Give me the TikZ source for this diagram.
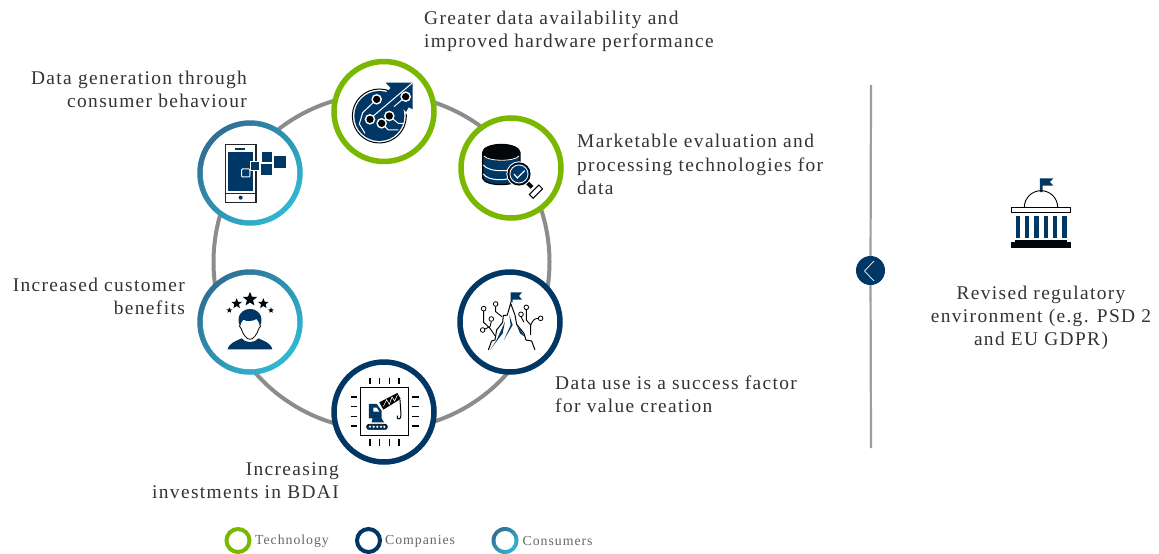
\documentclass[tikz,border=0pt]{standalone}
\usepackage{fontspec}
\setmainfont[LetterSpace=7]{Liberation Serif}
\usetikzlibrary{shapes.geometric}
\definecolor{techcolor}{HTML}{7AB800}
\definecolor{compcolor}{HTML}{003764}
\definecolor{consdark}{HTML}{2F6F93}
\definecolor{conslight}{HTML}{2FB8D2}
\definecolor{ringcolor}{HTML}{8C8C8C}
\definecolor{textcolor}{HTML}{333333}
\newcommand{\ringsize}{100pt}
\newcommand{\thickness}{5.5pt}
\tikzset{
  techring/.style={circle,draw=techcolor,fill=white,line width=\thickness,minimum size=\ringsize,inner sep=0pt},
  compring/.style={circle,draw=compcolor,fill=white,line width=\thickness,minimum size=\ringsize,inner sep=0pt},
  consring/.style={circle,top color=consdark,bottom color=conslight,shading angle=45,minimum size=\ringsize+\thickness,inner sep=0pt},
  consinner/.style={circle,fill=white,minimum size=\ringsize-\thickness,inner sep=0pt},
  techkey/.style={circle,draw=techcolor,fill=white,line width=4pt,minimum size=23pt,inner sep=0pt},
  compkey/.style={circle,draw=compcolor,fill=white,line width=4pt,minimum size=23pt,inner sep=0pt},
  conskey/.style={circle,top color=consdark,bottom color=conslight,shading angle=45,minimum size=27pt,inner sep=0pt},
  conskeyinner/.style={circle,fill=white,minimum size=19pt,inner sep=0pt},
  label/.style={text=textcolor,inner sep=0pt,font=\fontsize{19.4}{23.2}\selectfont},
  keylabel/.style={text=black!60,inner sep=0pt,font=\fontsize{13.8}{15}\selectfont,anchor=west},
  star5/.style={star,star points=5,star point ratio=2.3,fill=black!85!compcolor,inner sep=0pt},
  zoomed/.style={x=0.3333pt,y=-0.3333pt},
}

\begin{document}
\begin{tikzpicture}[x=1pt,y=-1pt]
\useasboundingbox (0,0) rectangle (1159,554);
\fill[white] (0,0) rectangle (1159,554);
\draw[ringcolor,line width=4pt] (381.5,262) circle (168);
%rings
\node[techring] (data) at (384,111.5) {};
\node[techring] (eval) at (511,168) {};
\node[compring] (use) at (510,322) {};
\node[compring] (invest) at (384,412) {};
\node[consring] (benefit) at (250,322) {};
\node[consinner] (benefitin) at (250,322) {};
\node[consring] (behave) at (250,173) {};
\node[consinner] (behavein) at (250,173) {};
%labels
\node[label,anchor=west,align=left] (datatext) at (424,31.5) {Greater data availability and\\improved hardware performance};
\node[label,anchor=west,align=left] (evaltext) at (577,164.5) {Marketable evaluation and\\processing technologies for\\data};
\node[label,anchor=west,align=left] (usetext) at (555,394) {Data use is a success factor\\for value creation};
\node[label,anchor=east,align=right] (investtext) at (339,481) {Increasing\\investments in BDAI};
\node[label,anchor=east,align=right] (benefittext) at (185,296) {Increased customer\\benefits};
\node[label,anchor=east,align=right] (behavetext) at (247,89) {Data generation through\\consumer behaviour};
\node[label,align=center] (lawtext) at (1041,318) {Revised regulatory\\environment (e.g. PSD 2\\and EU GDPR)};
%legend
\node[techkey] (key1) at (238,540.5) {};
\node[compkey] (key2) at (368.5,540.5) {};
\node[conskey] (key3) at (505,540.5) {};
\node[conskeyinner] (key3in) at (505,540.5) {};
\node[keylabel] (key1text) at (255,541) {Technology};
\node[keylabel] (key2text) at (385,541) {Companies};
\node[keylabel] (key3text) at (522.5,541) {Consumers};
%divider
\node[circle,fill=compcolor,minimum size=29pt,inner sep=0pt] (arrowdot) at (870.5,270.5) {};
\coordinate (linetop) at (871,85);
\coordinate (linebot) at (871,448);
\begin{scope}
\draw[black!38,line width=2.2pt] (linetop) -- (arrowdot);
\draw[black!38,line width=2.2pt] (arrowdot) -- (linebot);
\end{scope}
\draw[white,line width=0.7pt] (874,261) -- (864.5,271) -- (874,281);
%data icon
\begin{scope}[shift={(320,50)},zoomed]
\draw[black,line width=1pt,fill=white] (178,198) circle (81);
\fill[compcolor] (178,198) circle (75);
\fill[white] (190,92) -- (285,92) -- (285,185) -- (258,192) -- (250,178) -- (212,114) -- cycle;
\fill[compcolor] (197,98) -- (278,98) -- (278,178) -- (266,172) -- (258,186) -- (250,178) -- (170,260) -- (130,190) -- (212,114) -- cycle;
\draw[white,line width=1pt] (278,98) -- (160,198);
\draw[white,line width=1pt] (257,140) -- (222,170);
\draw[white,line width=1pt] (170,148) -- (128,188) -- (118,222) -- (135,250);
\draw[white,line width=1pt] (208,198) -- (235,220) -- (250,220);
\draw[white,line width=1pt] (185,220) -- (205,240) -- (235,240);
\fill[white] (170,148) circle (16);
\fill[black] (170,148) circle (11);
\fill[white] (257,140) circle (16);
\fill[black] (257,140) circle (11);
\fill[white] (150,208) circle (16);
\fill[black] (150,208) circle (11);
\fill[white] (208,198) circle (16);
\fill[black] (208,198) circle (11);
\fill[white] (185,220) circle (16);
\fill[black] (185,220) circle (11);
%database icon
\draw[black,line width=1.2pt,fill=compcolor] (488,310) -- (488,385) .. controls (495,410) and (590,410) .. (600,385) -- (600,310) -- cycle;
\draw[white,line width=1pt] (490,345) .. controls (505,368) and (585,368) .. (598,345);
\draw[white,line width=1pt] (490,372) .. controls (505,395) and (570,395) .. (598,372);
\fill[black!90!compcolor,draw=black,line width=1pt] (544,307) ellipse (56 and 24);
\draw[white,line width=0.8pt] (492,318) .. controls (505,335) and (585,335) .. (597,318);
\draw[black,line width=4pt] (622,398) -- (636,412);
\draw[black,fill=white,line width=1pt,rotate around={45:(648,425)}] (628,417) rectangle (668,433);
\fill[white] (597,372) circle (38);
\draw[black,line width=1.2pt,fill=compcolor] (597,372) circle (33);
\draw[white,line width=0.8pt] (597,372) circle (27);
\draw[white,line width=1.2pt] (582,372) -- (592,384) -- (614,362);
\end{scope}
%phone icon
\begin{scope}[shift={(190,115)},zoomed]
\draw[black!85,line width=1.3pt] (107,88) rectangle (198,263);
\fill[compcolor] (115,112) rectangle (190,228);
\fill[compcolor] (135,99) rectangle (165,104);
\draw[black!85,line width=0.9pt] (107,236) -- (198,236);
\fill[compcolor] (152,248) circle (6);
\draw[white,line width=0.8pt,fill=compcolor] (181,138) rectangle (209,167);
\draw[white,line width=0.8pt,fill=compcolor] (215,110) rectangle (247,142);
\draw[white,line width=0.8pt,fill=compcolor] (210,146) rectangle (247,182);
\fill[compcolor] (252,122) rectangle (288,160);
\draw[white,line width=1pt,rounded corners=1pt,fill=compcolor] (155,162) rectangle (180,186);
%person icon
\node[star5,minimum size=6pt] (star1) at (118,586) {};
\node[star5,minimum size=11pt] (star2) at (140,566) {};
\node[star5,minimum size=15pt] (star3) at (180,553) {};
\node[star5,minimum size=11pt] (star4) at (220,566) {};
\node[star5,minimum size=6pt] (star5) at (243,586) {};
\fill[compcolor] (113,703) .. controls (118,682) and (140,678) .. (155,670) .. controls (165,685) and (195,685) .. (205,670) .. controls (220,678) and (242,682) .. (247,703) -- cycle;
\fill[compcolor] (150,635) .. controls (135,600) and (160,582) .. (180,582) .. controls (200,582) and (225,600) .. (210,635) .. controls (208,625) and (205,618) .. (200,612) .. controls (185,620) and (170,620) .. (160,614) .. controls (155,620) and (152,625) .. (150,635) -- cycle;
\draw[black,line width=0.8pt] (147,632) -- (153,640) .. controls (160,660) and (170,673) .. (180,673) .. controls (190,673) and (200,660) .. (207,640) -- (213,632);
\end{scope}
%mountain icon
\begin{scope}[shift={(320,265)},zoomed]
\fill[compcolor] (572,82) -- (606,82) -- (597,93) -- (606,104) -- (578,104) -- (578,112) -- (572,112) -- cycle;
\draw[black,line width=1pt] (505,255) -- (515,228) -- (525,225) -- (530,195) -- (548,172) -- (550,152) -- (562,150) -- (572,115) -- (585,150) -- (590,178) -- (612,205) -- (618,225) -- (635,228) -- (645,255);
\fill[compcolor] (510,255) -- (530,225) -- (555,170) -- (548,205) -- cycle;
\fill[compcolor] (552,225) -- (572,180) -- (568,150) -- (578,180) -- cycle;
\fill[compcolor] (590,180) -- (618,218) -- (600,205) -- cycle;
\draw[black,line width=0.9pt] (491,138) -- (491,172) -- (510,190) -- (525,212);
\draw[black,line width=0.9pt] (495,192) -- (510,185) -- (514,170);
\draw[black,line width=0.9pt] (527,124) -- (527,140) -- (546,155);
\draw[black,line width=0.9pt] (619,134) -- (619,165) -- (632,180) -- (632,210);
\draw[black,line width=0.9pt] (603,155) -- (612,172);
\draw[black,line width=0.9pt] (655,160) .. controls (640,160) and (638,170) .. (632,180);
\draw[black,line width=0.8pt,fill=white] (491,131) circle (7);
\draw[black,line width=0.8pt,fill=white] (527,117) circle (7);
\draw[black,line width=0.8pt,fill=white] (514,162) circle (7);
\draw[black,line width=0.8pt,fill=white] (488,195) circle (7);
\draw[black,line width=0.8pt,fill=white] (619,127) circle (7);
\draw[black,line width=0.8pt,fill=white] (603,148) circle (7);
\draw[black,line width=0.8pt,fill=white] (662,160) circle (7);
%chip icon
\draw[black,line width=1.2pt] (122,368) rectangle (266,512);
\draw[black,line width=1.1pt] (150,338) -- (150,358);
\draw[black,line width=1.1pt] (179,338) -- (179,358);
\draw[black,line width=1.1pt] (208,338) -- (208,358);
\draw[black,line width=1.1pt] (237,338) -- (237,358);
\draw[black,line width=1.1pt] (150,522) -- (150,542);
\draw[black,line width=1.1pt] (179,522) -- (179,542);
\draw[black,line width=1.1pt] (208,522) -- (208,542);
\draw[black,line width=1.1pt] (237,522) -- (237,542);
\draw[black,line width=1.1pt] (92,396) -- (112,396);
\draw[black,line width=1.1pt] (92,425) -- (112,425);
\draw[black,line width=1.1pt] (92,454) -- (112,454);
\draw[black,line width=1.1pt] (92,483) -- (112,483);
\draw[black,line width=1.1pt] (276,396) -- (296,396);
\draw[black,line width=1.1pt] (276,425) -- (296,425);
\draw[black,line width=1.1pt] (276,454) -- (296,454);
\draw[black,line width=1.1pt] (276,483) -- (296,483);
\fill[compcolor] (147,417) -- (170,417) -- (185,437) -- (185,460) -- (192,472) -- (155,472) -- (158,460) -- (147,460) -- cycle;
\fill[white] (160,428) -- (170,428) -- (178,440) -- (160,440) -- cycle;
\fill[black] (178,412) -- (232,384) -- (242,402) -- (190,434) -- cycle;
\draw[white,line width=0.6pt] (190,424) -- (200,404) -- (208,418) -- (216,396) -- (224,408) -- (232,390);
\draw[black,line width=1pt] (240,405) -- (243,448) .. controls (245,466) and (228,466) .. (232,452);
\draw[black,line width=0.8pt,fill=compcolor,rounded corners=2.4pt] (140,478) rectangle (202,493);
\fill[white] (150,485.5) circle (3.5);
\fill[white] (161,485.5) circle (3.5);
\fill[white] (172,485.5) circle (3.5);
\fill[white] (183,485.5) circle (3.5);
\fill[white] (193,485.5) circle (3.5);
\end{scope}
%parliament icon
\begin{scope}[shift={(840,170)},zoomed]
\fill[compcolor] (600,25) -- (640,25) -- (630,36) -- (640,47) -- (608,47) -- (608,66) -- (600,66) -- cycle;
\draw[black,line width=0.9pt] (553,112) arc (180:360:50);
\draw[black,line width=1pt,fill=white] (515,112) rectangle (692,129);
\fill[compcolor] (527,137) rectangle (540,204);
\fill[compcolor] (555,137) rectangle (568,204);
\fill[compcolor] (583,137) rectangle (596,204);
\fill[compcolor] (611,137) rectangle (624,204);
\fill[compcolor] (639,137) rectangle (652,204);
\fill[compcolor] (667,137) rectangle (680,204);
\fill[black!90!compcolor] (525,210) rectangle (682,216);
\fill[black!90!compcolor] (512,216) rectangle (694,233);
\end{scope}
\end{tikzpicture}
\end{document}
